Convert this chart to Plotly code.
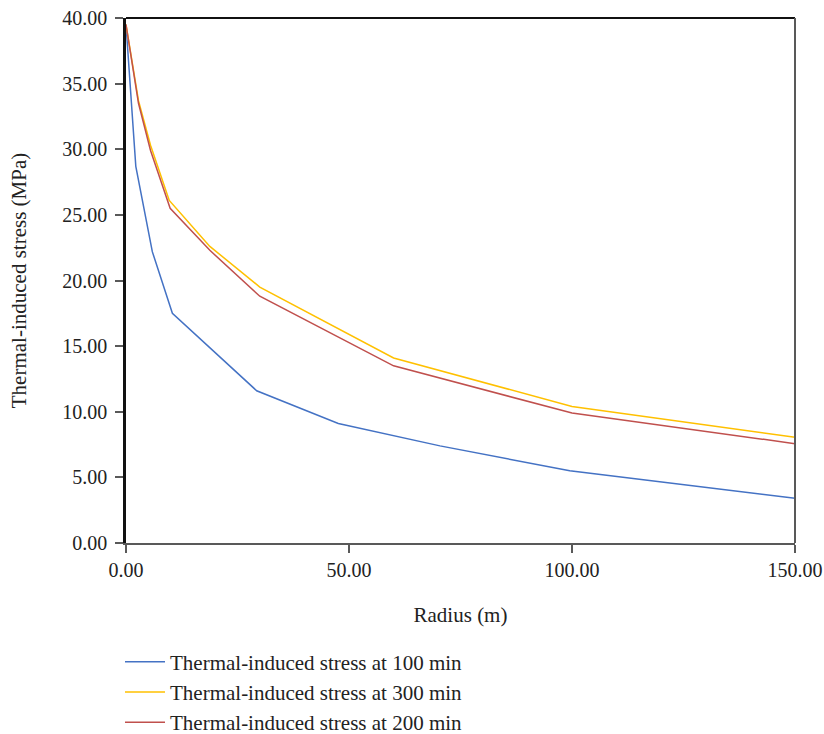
import plotly.graph_objects as go

# Data
x_100 = [0, 2.2, 5.9, 10.4, 29.3, 47.6, 70.4, 99.5, 150]
y_100 = [39.5, 28.7, 22.2, 17.5, 11.6, 9.1, 7.4, 5.5, 3.4]

x_300 = [0, 2.8, 5.5, 9.7, 18.8, 30, 60, 100, 150]
y_300 = [39.5, 33.7, 30.3, 26.1, 22.6, 19.5, 14.1, 10.4, 8.05]

x_200 = [0, 2.8, 5.5, 9.9, 18.8, 30, 60, 100, 150]
y_200 = [39.5, 33.5, 29.9, 25.5, 22.3, 18.8, 13.5, 9.9, 7.57]

names = ["Thermal-induced stress at 100 min",
         "Thermal-induced stress at 300 min",
         "Thermal-induced stress at 200 min"]
colors = ["#4472C4", "#FFC000", "#C0504D"]

x_ticks = [0, 50, 100, 150]
y_ticks = [0, 5, 10, 15, 20, 25, 30, 35, 40]

FONT = "Liberation Serif"

# page margin is removed below, so layout pixels equal window pixels
W, H = 824, 768
ML, MT = 126, 18
PLOT_RIGHT = 795
PLOT_BOTTOM = 543
MR = W - PLOT_RIGHT
MB = H - PLOT_BOTTOM
PLOT_H = PLOT_BOTTOM - MT
PLOT_W = PLOT_RIGHT - ML

fig = go.Figure()
for xs, ys, n, c in [(x_100, y_100, names[0], colors[0]),
                     (x_300, y_300, names[1], colors[1]),
                     (x_200, y_200, names[2], colors[2])]:
    fig.add_trace(go.Scatter(x=xs, y=ys, mode="lines", name=n,
                             line=dict(color=c, width=1.5)))

fig.update_layout(
    width=W, height=H,
    margin=dict(l=ML, r=MR, t=MT, b=MB),
    paper_bgcolor="white", plot_bgcolor="white",
    font=dict(family=FONT, size=20, color="#222222"),
    showlegend=True,
    legend=dict(x=-6 / PLOT_W, xanchor="left",
                y=(PLOT_BOTTOM - 641.5) / PLOT_H, yanchor="top",
                font=dict(family=FONT, size=21, color="#222222"),
                bgcolor="rgba(0,0,0,0)", tracegroupgap=0, itemwidth=40),
    xaxis=dict(range=[0, 150], tickvals=x_ticks,
               ticktext=[f"{v:.2f}" for v in x_ticks],
               showgrid=False, zeroline=False, automargin=False,
               ticklabeloverflow="allow",
               showline=True, linecolor="#595959", linewidth=2,
               ticks="outside", ticklen=8, tickcolor="#595959", tickwidth=1.5,
               title=dict(text="Radius (m)", font=dict(size=21), standoff=27)),
    yaxis=dict(range=[0, 40], tickvals=y_ticks,
               ticktext=[f"{v:.2f}\u2009" for v in y_ticks],
               showgrid=False, zeroline=False, automargin=False,
               ticklabeloverflow="allow",
               showline=True, linecolor="#111111", linewidth=2.5,
               ticks="outside", ticklen=8, tickcolor="#595959", tickwidth=1.5,
               title=dict(text="Thermal-induced stress (MPa)", font=dict(size=21), standoff=30)),
    shapes=[
        dict(type="line", xref="paper", yref="paper", x0=0, x1=1, y0=1, y1=1,
             line=dict(color="#111111", width=2)),
        dict(type="line", xref="paper", yref="paper", x0=1, x1=1, y0=0, y1=1,
             line=dict(color="#595959", width=2)),
    ],
)

fig.write_html("out.html",
               config={"displayModeBar": False},
               post_script="document.documentElement.style.overflow='hidden';"
                           "document.body.style.overflow='hidden';"
                           "document.body.style.margin='0';")
